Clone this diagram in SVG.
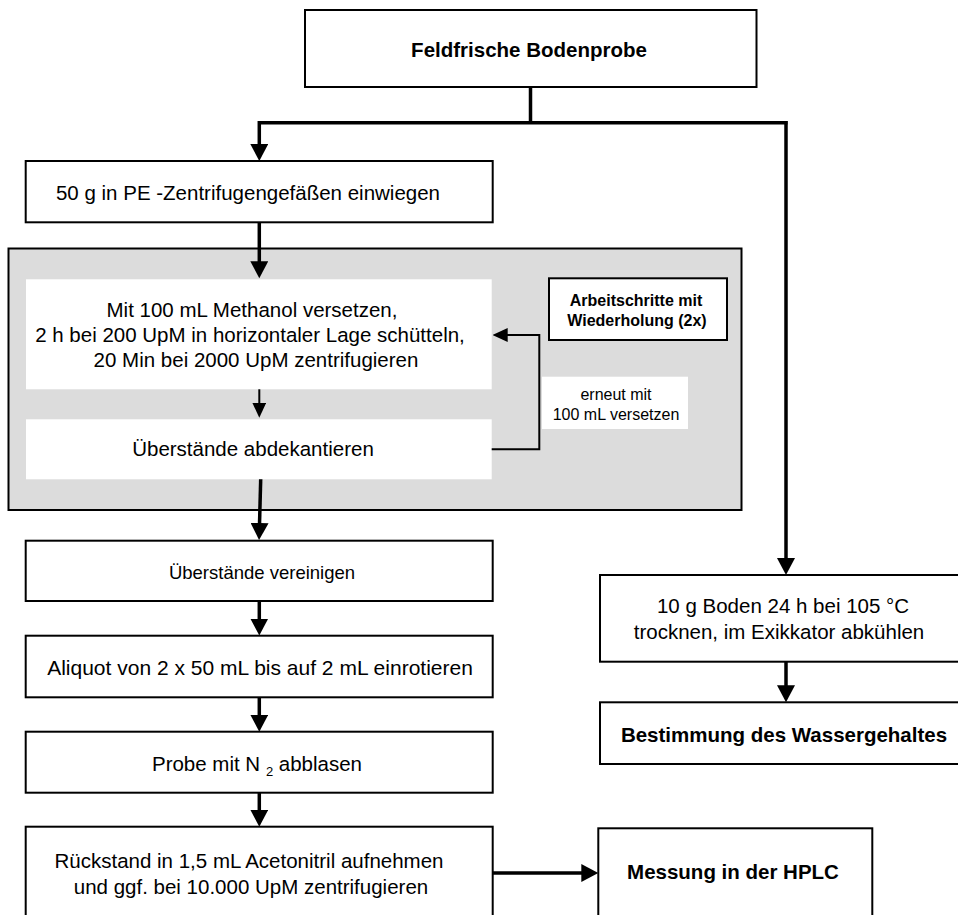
<svg xmlns="http://www.w3.org/2000/svg" width="958" height="915" viewBox="0 0 958 915">
<style>
text{font-family:"Liberation Sans",Arial,sans-serif;font-size:20.5px;fill:#000;text-anchor:middle}
.b{font-weight:bold}
.box{fill:#fff;stroke:#000;stroke-width:2}
.wb{fill:#fff;stroke:none}
.thick{fill:none;stroke:#000;stroke-width:3.5}
.thin{fill:none;stroke:#000;stroke-width:2}
</style>
<defs>
<marker id="ah" markerUnits="userSpaceOnUse" markerWidth="18" markerHeight="18" viewBox="0 0 18 18" refX="9" refY="9" orient="auto"><path d="M0,0 L17,9 L0,18 z" fill="#000"/></marker>
<marker id="ahs" markerUnits="userSpaceOnUse" markerWidth="15" markerHeight="14" viewBox="0 0 15 14" refX="11" refY="7" orient="auto"><path d="M0,0 L15,7 L0,14 z" fill="#000"/></marker>
</defs>
<rect width="958" height="915" fill="#fff"/>
<g id="wiederholung-bereich">
<rect x="8.5" y="248.5" width="733" height="261.5" fill="#dcdcdc" stroke="#000" stroke-width="2"/>
</g>
<g id="n-feldfrisch"><rect class="box" x="305" y="10" width="451.5" height="77"/><text class="b" x="529" y="57">Feldfrische Bodenprobe</text></g>
<g id="n-einwiegen"><rect class="box" x="25.7" y="161" width="467" height="61.3"/><text x="248" y="200">50 g in PE -Zentrifugengefäßen einwiegen</text></g>
<g id="n-methanol"><rect class="wb" x="26" y="279.3" width="465.7" height="110"/>
<text x="252" y="317">Mit 100 mL Methanol versetzen,</text>
<text x="250" y="342">2 h bei 200 UpM in horizontaler Lage schütteln,</text>
<text x="256" y="367">20 Min bei 2000 UpM zentrifugieren</text></g>
<g id="n-abdekantieren"><rect class="wb" x="26" y="419.3" width="465.7" height="60"/><text x="253" y="456">Überstände abdekantieren</text></g>
<g id="n-arbeitsschritte"><rect class="box" x="549" y="278.3" width="178" height="61.7"/>
<text class="b" x="636" y="306" style="font-size:16px">Arbeitschritte mit</text>
<text class="b" x="637" y="326" style="font-size:16px">Wiederholung (2x)</text></g>
<g id="n-erneut"><rect class="wb" x="542" y="376.7" width="146" height="52.3"/>
<text x="616" y="400" style="font-size:16px">erneut mit</text>
<text x="616" y="420" style="font-size:16px">100 mL versetzen</text></g>
<g id="n-vereinigen"><rect class="box" x="25.7" y="540.7" width="467" height="60.3"/><text x="262" y="579" style="font-size:18.5px">Überstände vereinigen</text></g>
<g id="n-aliquot"><rect class="box" x="25.7" y="635.7" width="467" height="61.6"/><text x="260" y="675" style="font-size:21px">Aliquot von 2 x 50 mL bis auf 2 mL einrotieren</text></g>
<g id="n-probe"><rect class="box" x="25.7" y="731.7" width="467" height="61"/><text x="257" y="771">Probe mit N <tspan dy="5" style="font-size:13px">2</tspan><tspan dy="-5"> abblasen</tspan></text></g>
<g id="n-rueckstand"><rect class="box" x="25.7" y="826.7" width="467" height="110"/>
<text x="249" y="868">Rückstand in 1,5 mL Acetonitril aufnehmen</text>
<text x="251" y="894">und ggf. bei 10.000 UpM zentrifugieren</text></g>
<g id="n-hplc"><rect class="box" x="598.3" y="828.3" width="274" height="110"/><text class="b" x="733" y="879">Messung in der HPLC</text></g>
<g id="n-trocknen"><rect class="box" x="600" y="575" width="370" height="86.7"/>
<text x="783" y="613">10 g Boden 24 h bei 105 °C</text>
<text x="779" y="639">trocknen, im Exikkator abkühlen</text></g>
<g id="n-wassergehalt"><rect class="box" x="600" y="702.3" width="370" height="61.7"/><text class="b" x="784" y="742">Bestimmung des Wassergehaltes</text></g>
<g id="connectors">
<path class="thick" d="M530.5,87 V122.7"/>
<path class="thick" d="M787.5,122.7 H259.3 V153" marker-end="url(#ah)"/>
<path class="thick" d="M786,121 V567" marker-end="url(#ah)"/>
<path class="thick" d="M259.3,222.3 V270.3" marker-end="url(#ah)"/>
<path class="thin" d="M259.3,389.3 V413.7" marker-end="url(#ahs)"/>
<path class="thin" d="M491.7,449.3 H539.3 V335 H496.7" marker-end="url(#ahs)"/>
<path class="thick" d="M260.7,479.3 L259.3,532" marker-end="url(#ah)"/>
<path class="thick" d="M259.3,601 V627.5" marker-end="url(#ah)"/>
<path class="thick" d="M259.3,697.3 V723.7" marker-end="url(#ah)"/>
<path class="thick" d="M259.3,792.7 V818.7" marker-end="url(#ah)"/>
<path class="thick" d="M492.7,873 H590.3" marker-end="url(#ah)"/>
<path class="thick" d="M786,661.7 V694.3" marker-end="url(#ah)"/>
</g>
</svg>
